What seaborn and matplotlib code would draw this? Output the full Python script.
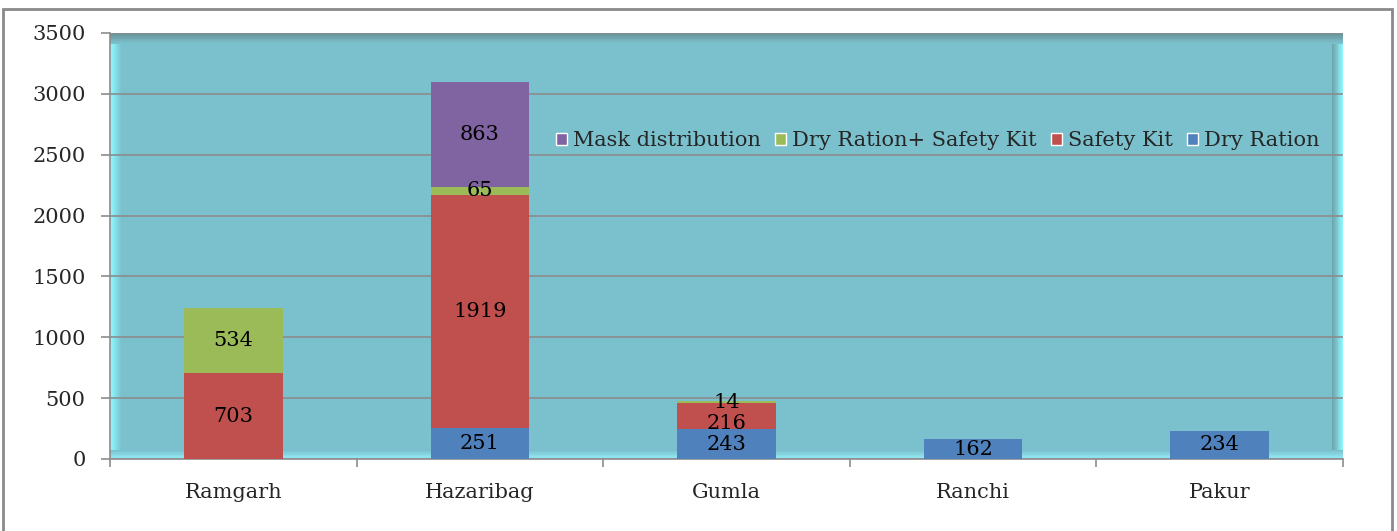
import numpy as np
import pandas as pd
import matplotlib.pyplot as plt
import matplotlib.colors as mcolors
from matplotlib.patches import Rectangle
from matplotlib.transforms import offset_copy
import seaborn as sns

districts = ['Ramgarh', 'Hazaribag', 'Gumla', 'Ranchi', 'Pakur']
dry_ration = [0, 251, 243, 162, 234]
safety_kit = [703, 1919, 216, 0, 0]
dry_plus_kit = [534, 65, 14, 0, 0]
mask = [0, 863, 0, 0, 0]

series = ['Dry Ration', 'Safety Kit', 'Dry Ration+ Safety Kit', 'Mask distribution']
values = [dry_ration, safety_kit, dry_plus_kit, mask]
colors = ['#4F81BD', '#C0504D', '#9BBB59', '#8064A2']

bg = '#7AC1CD'
fs = 15

sns.set_theme(style='white')
plt.rcParams['font.family'] = ['DejaVu Serif', 'Liberation Serif']

fig = plt.figure(figsize=(13.97, 5.31), dpi=100)
W, H = 1397, 531
ax = fig.add_axes([110 / W, 1 - 459 / H, 1233 / W, 426 / H])
ax.set_facecolor(bg)

# outer chart border
fig.patches.append(Rectangle((3 / W, -0.05), 1389 / W, 1.05 - 9 / H,
                             transform=fig.transFigure, fill=False,
                             edgecolor='#8a8a8a', linewidth=2))

# pseudo 3D wall bevels
def strip(x0, y0, w, h, c1, c2, horizontal, n=12):
    for k in range(n):
        t = k / (n - 1)
        c = np.array(mcolors.to_rgb(c1)) * (1 - t) + np.array(mcolors.to_rgb(c2)) * t
        if horizontal:
            r = Rectangle((x0 + w * k / n, y0), w / n, h)
        else:
            r = Rectangle((x0, y0 + h * k / n), w, h / n)
        r.set(transform=ax.transAxes, facecolor=c, edgecolor='none', zorder=0.5)
        ax.add_patch(r)

px_x = 1 / 1233
px_y = 1 / 426
strip(0, 0, 12 * px_x, 1, '#8ff9ff', bg, True)
strip(1 - 11 * px_x, 0, 11 * px_x, 1, '#6fa6ae', '#8ff4fb', True)
strip(0, 1 - 11 * px_y, 1, 11 * px_y, bg, '#6b9298', False)
strip(0, 0, 1, 9 * px_y, '#94eef8', bg, False)

# stacked bars: draw cumulative totals from top layer down
cum = np.cumsum(np.array(values), axis=0)
for i in range(len(series) - 1, -1, -1):
    df = pd.DataFrame({'district': districts, 'total': cum[i]})
    sns.barplot(data=df, x='district', y='total', order=districts, color=colors[i],
                saturation=1, width=0.4, ax=ax, zorder=3, linewidth=0)

for i in range(len(series)):
    for j in range(len(districts)):
        v = values[i][j]
        if v > 0:
            # push a label down a little when the segment above it is very thin
            nudge = 0
            if i + 1 < len(series) and 0 < values[i + 1][j] < 50:
                nudge = -7
            tr = offset_copy(ax.transData, fig=fig, y=nudge, units='dots')
            ax.text(j, cum[i][j] - v / 2, str(v), ha='center', va='center',
                    fontsize=fs, color='black', zorder=5, transform=tr)

ax.set_xlim(-0.5, 4.5)
ax.set_ylim(0, 3500)
ax.set_yticks(np.arange(0, 3501, 500))
ax.yaxis.grid(True, color='#8c8c8c', linewidth=1.2, zorder=1)
ax.set_axisbelow(True)
ax.set_xlabel('')
ax.set_ylabel('')

for s in ['top', 'right']:
    ax.spines[s].set_visible(False)
for s in ['left', 'bottom']:
    ax.spines[s].set_color('#8c8c8c')
    ax.spines[s].set_linewidth(1.2)

ax.tick_params(axis='y', which='major', direction='out', length=6.5, width=1.2,
               color='#8c8c8c', labelsize=fs, pad=11, left=True)
ax.set_xticks(range(len(districts)))
ax.set_xticklabels(districts, fontsize=fs)
ax.tick_params(axis='x', which='major', length=0, pad=17)
ax.set_xticks(np.arange(-0.5, 4.6, 1), minor=True)
ax.tick_params(axis='x', which='minor', direction='out', length=6, width=1.2,
               color='#8c8c8c', bottom=True)

handles = [Rectangle((0, 0), 1, 1, facecolor=colors[i]) for i in range(len(series) - 1, -1, -1)]
labels = [series[i] for i in range(len(series) - 1, -1, -1)]
ax.legend(handles, labels, loc='center', bbox_to_anchor=((938 - 110) / 1233, (459 - 141) / 426),
          ncol=4, frameon=False, fontsize=fs, handlelength=0.5, handleheight=0.5,
          handletextpad=0.3, columnspacing=0.7, borderaxespad=0)

fig.savefig('out.png', dpi=100)
